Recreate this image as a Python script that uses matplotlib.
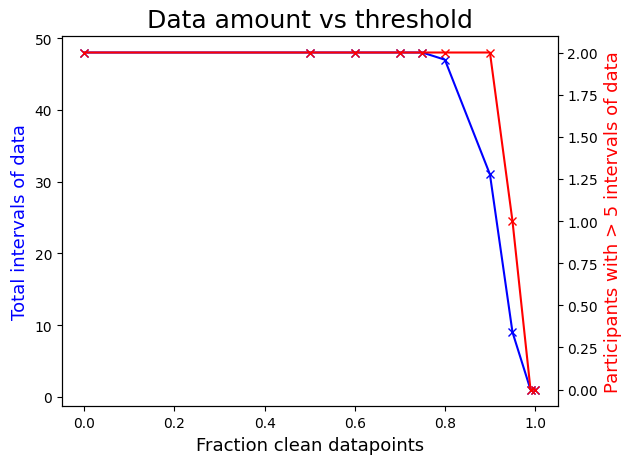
import matplotlib
matplotlib.use("Agg")
import matplotlib.pyplot as plt

thresholds = [0.0, 0.5, 0.6, 0.7, 0.75, 0.8, 0.9, 0.95, 0.99, 1.0]
total_intervals = [48, 48, 48, 48, 48, 47, 31, 9, 1, 1]
participants = [2, 2, 2, 2, 2, 2, 2, 1, 0, 0]

fig, ax1 = plt.subplots(figsize=(6.3, 4.64), dpi=100)
ax1.plot(thresholds, total_intervals, color="blue", marker="x")
ax1.set_xlabel("Fraction clean datapoints", fontsize=13)
ax1.set_ylabel("Total intervals of data", color="blue", fontsize=13)
ax2 = ax1.twinx()
ax2.plot(thresholds, participants, color="red", marker="x")
ax2.set_ylabel("Participants with > 5 intervals of data", color="red", fontsize=13)
ax1.set_title("Data amount vs threshold", fontsize=18)
fig.subplots_adjust(left=0.098, right=0.885, top=0.921, bottom=0.122)
fig.savefig("out.png")
